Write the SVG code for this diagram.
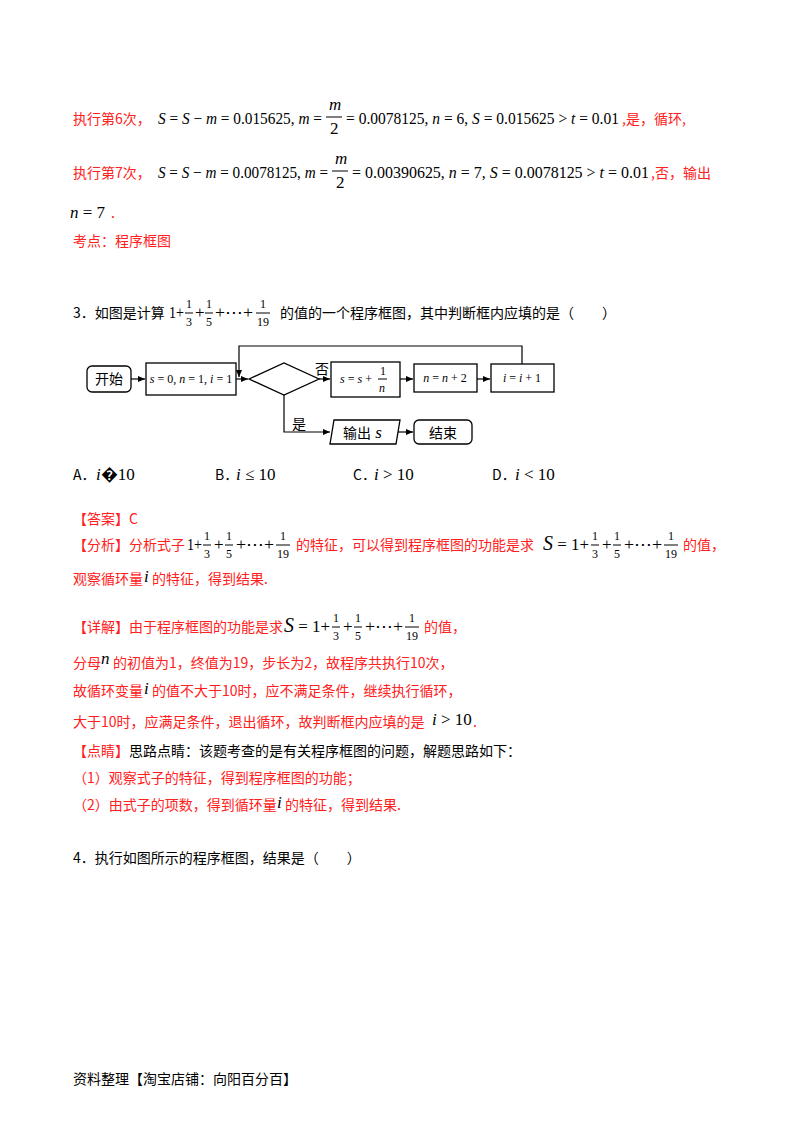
<svg xmlns="http://www.w3.org/2000/svg" width="800" height="1132" viewBox="0 0 800 1132">
<style>
.r{fill:#ff2020;font-family:"Noto Sans CJK SC",sans-serif;font-size:14px}
.k{fill:#000;font-family:"Noto Sans CJK SC",sans-serif;font-size:14px}
.m{fill:#000;font-family:"Times New Roman","Liberation Serif",serif;font-size:17px}
.i{font-style:italic}
.s{fill:#000;font-family:"Times New Roman","Liberation Serif",serif;font-size:12px}
.fb{stroke:#000;stroke-width:1}
.b{fill:#fff;stroke:#000;stroke-width:1.3}
.c{fill:none;stroke:#000;stroke-width:1.2}
</style>
<defs><marker id="a" markerWidth="8" markerHeight="8" refX="7" refY="4" orient="auto" markerUnits="userSpaceOnUse"><path d="M0,1 L7,4 L0,7z" fill="#000"/></marker></defs>
<rect width="800" height="1132" fill="#fff"/>
<text x="73" y="124" class="r">执行第6次，</text>
<text x="158" y="124" class="m" textLength="164" lengthAdjust="spacingAndGlyphs"><tspan class="i">S</tspan> = <tspan class="i">S</tspan> − <tspan class="i">m</tspan> = 0.015625, <tspan class="i">m</tspan> =</text>
<text x="329" y="110" class="m i" font-size="15">m</text><line x1="326" y1="117" x2="342" y2="117" class="fb"/><text x="330" y="134" class="m" font-size="15">2</text>
<text x="346" y="124" class="m" textLength="273" lengthAdjust="spacingAndGlyphs">= 0.0078125, <tspan class="i">n</tspan> = 6, <tspan class="i">S</tspan> = 0.015625 &gt; <tspan class="i">t</tspan> = 0.01</text>
<text x="622" y="124" class="r">,是，循环,</text>
<text x="73" y="178" class="r">执行第7次，</text>
<text x="158" y="178" class="m" textLength="170" lengthAdjust="spacingAndGlyphs"><tspan class="i">S</tspan> = <tspan class="i">S</tspan> − <tspan class="i">m</tspan> = 0.0078125, <tspan class="i">m</tspan> =</text>
<text x="335" y="164" class="m i" font-size="15">m</text><line x1="332" y1="171" x2="348" y2="171" class="fb"/><text x="336" y="188" class="m" font-size="15">2</text>
<text x="352" y="178" class="m" textLength="297" lengthAdjust="spacingAndGlyphs">= 0.00390625, <tspan class="i">n</tspan> = 7, <tspan class="i">S</tspan> = 0.0078125 &gt; <tspan class="i">t</tspan> = 0.01</text>
<text x="651" y="178" class="r">,否，输出</text>
<text x="70" y="218" class="m"><tspan class="i">n</tspan> = 7</text><text x="111" y="218" class="r">.</text>
<text x="73" y="246" class="r">考点：程序框图</text>
<text x="73" y="318" class="k">3．如图是计算</text>
<text x="169" y="318" class="m" textLength="15" lengthAdjust="spacingAndGlyphs">1+</text>
<text x="186" y="308" class="s">1</text><line x1="185" y1="313" x2="193" y2="313" class="fb"/><text x="186" y="326" class="s">3</text>
<text x="195" y="318" class="m">+</text>
<text x="206" y="308" class="s">1</text><line x1="205" y1="313" x2="213" y2="313" class="fb"/><text x="206" y="326" class="s">5</text>
<text x="215" y="318" class="m" textLength="38" lengthAdjust="spacingAndGlyphs">+⋯+</text>
<text x="260" y="308" class="s">1</text><line x1="256" y1="313" x2="270" y2="313" class="fb"/><text x="257" y="326" class="s">19</text>
<text x="280" y="318" class="k">的值的一个程序框图，其中判断框内应填的是（　　）</text>
<g id="start"><rect x="87" y="366" width="44" height="26" rx="5" class="b"/><text x="109" y="384" class="k" font-size="15" text-anchor="middle">开始</text></g>
<g id="init"><rect x="146" y="363" width="90" height="32" class="b"/><text x="191" y="383" class="s" font-size="11" text-anchor="middle"><tspan class="i">s</tspan> = 0, <tspan class="i">n</tspan> = 1, <tspan class="i">i</tspan> = 1</text></g>
<g id="cond"><polygon points="249,379 284,363 319,379 284,395" class="b"/></g>
<g id="sum"><rect x="331" y="362" width="69" height="35" class="b"/><text x="340" y="383" class="s" font-size="11"><tspan class="i">s</tspan> = <tspan class="i">s</tspan> +</text><text x="380" y="375" class="s" font-size="11">1</text><line x1="378" y1="379" x2="387" y2="379" class="fb"/><text x="379" y="392" class="s i" font-size="11">n</text></g>
<g id="incn"><rect x="414" y="364" width="63" height="28" class="b"/><text x="445" y="382" class="s" font-size="11" text-anchor="middle"><tspan class="i">n</tspan> = <tspan class="i">n</tspan> + 2</text></g>
<g id="inci"><rect x="491" y="364" width="63" height="28" class="b"/><text x="522" y="382" class="s" font-size="11" text-anchor="middle"><tspan class="i">i</tspan> = <tspan class="i">i</tspan> + 1</text></g>
<g id="out"><polygon points="334,420 400,420 396,444 330,444" class="b"/><text x="343" y="438" class="k">输出<tspan class="m i" font-size="15"> s</tspan></text></g>
<g id="end"><rect x="414" y="420" width="58" height="24" rx="5" class="b"/><text x="443" y="438" class="k" font-size="15" text-anchor="middle">结束</text></g>
<g id="connectors">
<line x1="131" y1="379" x2="145" y2="379" class="c" marker-end="url(#a)"/>
<line x1="236" y1="379" x2="248" y2="379" class="c" marker-end="url(#a)"/>
<line x1="319" y1="379" x2="330" y2="379" class="c" marker-end="url(#a)"/>
<line x1="400" y1="379" x2="413" y2="379" class="c" marker-end="url(#a)"/>
<line x1="477" y1="379" x2="490" y2="379" class="c" marker-end="url(#a)"/>
<polyline points="522,364 522,346 239,346 239,377" class="c" marker-end="url(#a)"/>
<polyline points="284,395 284,432 330,432" class="c" marker-end="url(#a)"/>
<line x1="398" y1="432" x2="413" y2="432" class="c" marker-end="url(#a)"/>
<text x="315" y="374" class="k">否</text>
<text x="292" y="429" class="k">是</text>
</g>
<text x="73" y="480" class="k">A．</text><text x="96" y="480" class="m"><tspan class="i">i</tspan>�10</text>
<text x="215" y="480" class="k">B．</text><text x="236" y="480" class="m"><tspan class="i">i</tspan> ≤ 10</text>
<text x="353" y="480" class="k">C．</text><text x="374" y="480" class="m"><tspan class="i">i</tspan> &gt; 10</text>
<text x="492" y="480" class="k">D．</text><text x="515" y="480" class="m" font-size="15"><tspan class="i">i</tspan> &lt; 10</text>
<text x="73" y="524" class="r">【答案】C</text>
<text x="73" y="550" class="r">【分析】分析式子</text>
<text x="187" y="550" class="m" textLength="15" lengthAdjust="spacingAndGlyphs">1+</text><text x="204" y="540" class="s">1</text><line x1="203" y1="545" x2="211" y2="545" class="fb"/><text x="204" y="558" class="s">3</text>
<text x="214" y="550" class="m">+</text><text x="226" y="540" class="s">1</text><line x1="225" y1="545" x2="233" y2="545" class="fb"/><text x="226" y="558" class="s">5</text>
<text x="236" y="550" class="m" textLength="38" lengthAdjust="spacingAndGlyphs">+⋯+</text><text x="280" y="540" class="s">1</text><line x1="276" y1="545" x2="290" y2="545" class="fb"/><text x="277" y="558" class="s">19</text>
<text x="296" y="550" class="r">的特征，可以得到程序框图的功能是求</text>
<text x="543" y="550" class="m" textLength="46" lengthAdjust="spacingAndGlyphs"><tspan class="i" font-size="20">S</tspan> = 1+</text><text x="592" y="540" class="s">1</text><line x1="591" y1="545" x2="599" y2="545" class="fb"/><text x="592" y="558" class="s">3</text>
<text x="602" y="550" class="m">+</text><text x="614" y="540" class="s">1</text><line x1="613" y1="545" x2="621" y2="545" class="fb"/><text x="614" y="558" class="s">5</text>
<text x="624" y="550" class="m" textLength="38" lengthAdjust="spacingAndGlyphs">+⋯+</text><text x="668" y="540" class="s">1</text><line x1="664" y1="545" x2="678" y2="545" class="fb"/><text x="665" y="558" class="s">19</text>
<text x="683" y="550" class="r">的值，</text>
<text x="73" y="584" class="r">观察循环量</text><text x="144" y="582" class="m i" font-size="19">i</text><text x="152" y="584" class="r">的特征，得到结果.</text>
<text x="73" y="632" class="r">【详解】由于程序框图的功能是求</text>
<text x="284" y="632" class="m" textLength="46" lengthAdjust="spacingAndGlyphs"><tspan class="i" font-size="20">S</tspan> = 1+</text><text x="333" y="622" class="s">1</text><line x1="332" y1="627" x2="340" y2="627" class="fb"/><text x="333" y="640" class="s">3</text>
<text x="343" y="632" class="m">+</text><text x="355" y="622" class="s">1</text><line x1="354" y1="627" x2="362" y2="627" class="fb"/><text x="355" y="640" class="s">5</text>
<text x="365" y="632" class="m" textLength="38" lengthAdjust="spacingAndGlyphs">+⋯+</text><text x="409" y="622" class="s">1</text><line x1="405" y1="627" x2="419" y2="627" class="fb"/><text x="406" y="640" class="s">19</text>
<text x="424" y="632" class="r">的值，</text>
<text x="73" y="668" class="r">分母</text><text x="101" y="664" class="m i" font-size="18">n</text><text x="113" y="668" class="r">的初值为1，终值为19，步长为2，故程序共执行10次，</text>
<text x="73" y="696" class="r">故循环变量</text><text x="144" y="694" class="m i" font-size="19">i</text><text x="152" y="696" class="r">的值不大于10时，应不满足条件，继续执行循环，</text>
<text x="73" y="727" class="r">大于10时，应满足条件，退出循环，故判断框内应填的是</text><text x="432" y="725" class="m"><tspan class="i">i</tspan> &gt; 10</text><text x="473" y="727" class="r">.</text>
<text x="73" y="756" class="r">【点睛】<tspan fill="#000">思路点睛：该题考查的是有关程序框图的问题，解题思路如下：</tspan></text>
<text x="73" y="783" class="r">（1）观察式子的特征，得到程序框图的功能；</text>
<text x="73" y="810" class="r">（2）由式子的项数，得到循环量</text><text x="277" y="808" class="m i" font-size="19">i</text><text x="285" y="810" class="r">的特征，得到结果.</text>
<text x="73" y="863" class="k">4．执行如图所示的程序框图，结果是（　　）</text>
<text x="73" y="1084" class="k" font-size="13">资料整理【淘宝店铺：向阳百分百】</text>
</svg>
